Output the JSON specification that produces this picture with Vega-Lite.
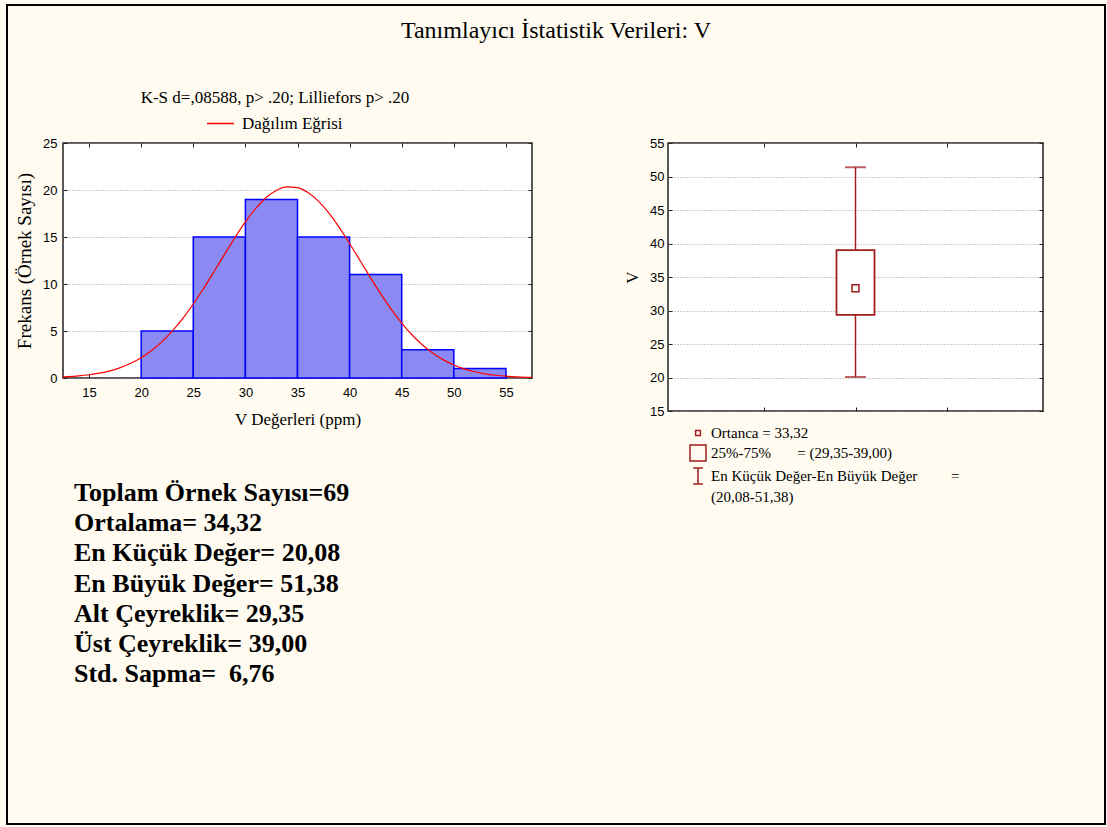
{
  "$schema": "https://vega.github.io/schema/vega-lite/v6.json",
  "background": "#fffbf0",
  "autosize": {"type": "pad"},
  "padding": {"left": 6, "top": 4, "right": 2, "bottom": 2},
  "config": {
    "font": "Liberation Serif",
    "axis": {
      "labelFont": "Liberation Sans", "labelFontSize": 13, "labelColor": "black", "labelOverlap": false,
      "titleFont": "Liberation Serif", "titleFontSize": 17, "titleFontWeight": "normal", "titleColor": "black",
      "tickColor": "#222222", "domain": false, "grid": false
    },
    "legend": {"labelFont": "Liberation Serif", "labelColor": "black", "labelLimit": 500, "strokeWidth": 2}
  },
  "spacing": 86,
  "hconcat": [
    {
      "spacing": 52,
      "vconcat": [
        {
          "width": 469, "height": 235,
          "view": {"stroke": "#222222", "strokeWidth": 1.5, "fill": "white"},
          "title": {"text": "K-S d=,08588, p> .20; Lilliefors p> .20", "font": "Liberation Serif", "fontSize": 17, "fontWeight": "normal", "color": "black", "anchor": "middle", "frame": "bounds", "offset": 30},
          "layer": [
            {
              "data": {"values": [
                {"bin_start": 20, "bin_end": 25, "count": 5},
                {"bin_start": 25, "bin_end": 30, "count": 15},
                {"bin_start": 30, "bin_end": 35, "count": 19},
                {"bin_start": 35, "bin_end": 40, "count": 15},
                {"bin_start": 40, "bin_end": 45, "count": 11},
                {"bin_start": 45, "bin_end": 50, "count": 3},
                {"bin_start": 50, "bin_end": 55, "count": 1}
              ]},
              "mark": {"type": "bar", "fill": "#8a8af2", "stroke": "#0000ff", "strokeWidth": 1.5},
              "encoding": {
                "x": {"field": "bin_start", "type": "quantitative", "scale": {"domain": [12.5, 57.5], "nice": false, "zero": false},
                  "axis": {"orient": "bottom", "values": [15, 20, 25, 30, 35, 40, 45, 50, 55], "title": "V Değerleri (ppm)", "tickSize": -4, "labelPadding": 12, "titlePadding": 12, "labelOverlap": false}},
                "x2": {"field": "bin_end"},
                "y": {"field": "count", "type": "quantitative", "scale": {"domain": [0, 25], "nice": false},
                  "axis": {"orient": "left", "values": [0, 5, 10, 15, 20, 25], "title": "Frekans (Örnek Sayısı)", "titleFontSize": 19, "tickSize": -4, "labelPadding": 10, "titlePadding": 8, "labelOverlap": false, "grid": true, "gridColor": "#9a9a9a", "gridDash": [1, 2]}},
                "y2": {"datum": 0}
              }
            },
            {
              "data": {"values": [
                {"v": 12.5, "freq": 0.111}, {"v": 13, "freq": 0.141}, {"v": 14, "freq": 0.222}, {"v": 15, "freq": 0.343},
                {"v": 16, "freq": 0.518}, {"v": 17, "freq": 0.764}, {"v": 18, "freq": 1.105}, {"v": 19, "freq": 1.561},
                {"v": 20, "freq": 2.158}, {"v": 21, "freq": 2.922}, {"v": 22, "freq": 3.866}, {"v": 23, "freq": 5.011},
                {"v": 24, "freq": 6.35}, {"v": 25, "freq": 7.871}, {"v": 26, "freq": 9.547}, {"v": 27, "freq": 11.33},
                {"v": 28, "freq": 13.15}, {"v": 29, "freq": 14.94}, {"v": 30, "freq": 16.6}, {"v": 31, "freq": 18.05},
                {"v": 32, "freq": 19.2}, {"v": 33, "freq": 19.98}, {"v": 34, "freq": 20.34}, {"v": 35, "freq": 20.26},
                {"v": 36, "freq": 19.74}, {"v": 37, "freq": 18.82}, {"v": 38, "freq": 17.56}, {"v": 39, "freq": 16.02},
                {"v": 40, "freq": 14.31}, {"v": 41, "freq": 12.5}, {"v": 42, "freq": 10.68}, {"v": 43, "freq": 8.928},
                {"v": 44, "freq": 7.303}, {"v": 45, "freq": 5.845}, {"v": 46, "freq": 4.577}, {"v": 47, "freq": 3.506},
                {"v": 48, "freq": 2.627}, {"v": 49, "freq": 1.926}, {"v": 50, "freq": 1.382}, {"v": 51, "freq": 0.97},
                {"v": 52, "freq": 0.666}, {"v": 53, "freq": 0.447}, {"v": 54, "freq": 0.294}, {"v": 55, "freq": 0.189},
                {"v": 56, "freq": 0.119}, {"v": 57, "freq": 0.073}, {"v": 57.5, "freq": 0.057}
              ]},
              "mark": {"type": "line", "strokeWidth": 1.2, "interpolate": "monotone"},
              "encoding": {
                "x": {"field": "v", "type": "quantitative",
                  "axis": {"orient": "top", "values": [15, 20, 25, 30, 35, 40, 45, 50, 55], "labels": false, "title": null, "tickSize": -4}},
                "y": {"field": "freq", "type": "quantitative",
                  "axis": {"orient": "right", "values": [0, 5, 10, 15, 20, 25], "labels": false, "title": null, "tickSize": -4}},
                "stroke": {"datum": "Dağılım Eğrisi", "type": "nominal", "scale": {"range": ["#ff0000"]},
                  "legend": {"orient": "none", "legendX": 143, "legendY": -34, "title": null, "symbolType": "stroke", "symbolSize": 729, "symbolStrokeWidth": 1.5, "labelFontSize": 17, "labelOffset": 7, "padding": 0}}
              }
            }
          ],
          "resolve": {"axis": {"x": "independent", "y": "independent"}}
        },
        {
          "width": 22, "height": 181,
          "view": {"stroke": null, "fill": null},
          "data": {"values": [
            {"row": 1, "label": "Toplam Örnek Sayısı=69"},
            {"row": 2, "label": "Ortalama= 34,32"},
            {"row": 3, "label": "En Küçük Değer= 20,08"},
            {"row": 4, "label": "En Büyük Değer= 51,38"},
            {"row": 5, "label": "Alt Çeyreklik= 29,35"},
            {"row": 6, "label": "Üst Çeyreklik= 39,00"},
            {"row": 7, "label": "Std. Sapma=\u00a0 6,76"}
          ]},
          "mark": {"type": "text", "align": "left", "baseline": "middle", "font": "Liberation Serif", "fontSize": 26, "fontWeight": "bold"},
          "encoding": {
            "y": {"field": "row", "type": "ordinal", "scale": {"type": "point", "padding": 0}, "axis": null},
            "text": {"field": "label"},
            "color": {"datum": 1, "type": "quantitative", "scale": {"domain": [0, 1], "range": ["black", "black"]},
              "legend": {"orient": "none", "legendX": -56, "legendY": -138, "direction": "vertical",
                "gradientLength": 762, "gradientThickness": 1068, "gradientOpacity": 0, "gradientStrokeWidth": 0,
                "labelOpacity": 0, "labelFontSize": 1, "labelOffset": 0,
                "title": "Tanımlayıcı İstatistik Verileri: V", "titleFont": "Liberation Serif", "titleFontSize": 24, "titleFontWeight": "normal", "titleColor": "black", "titleLimit": 1000,
                "titleAnchor": "middle", "titlePadding": 5, "padding": 14, "strokeColor": "black",
                "encode": {"gradient": {"update": {"opacity": {"value": 0}}}}}}
          }
        }
      ]
    },
    {
      "width": 375, "height": 268,
      "view": {"stroke": "#222222", "strokeWidth": 1.5, "fill": "white"},
      "data": {"values": [{"variable": "V", "min": 20.08, "q1": 29.35, "median": 33.32, "q3": 39.0, "max": 51.38}]},
      "layer": [
        {
          "layer": [
            {
              "mark": {"type": "rule", "color": "#a01e1e", "strokeWidth": 1.5},
              "encoding": {
                "x": {"datum": 2, "type": "quantitative", "scale": {"domain": [0, 4], "nice": false, "zero": false},
                  "axis": {"orient": "bottom", "values": [1, 2, 3], "labels": false, "title": null, "tickSize": -4}},
                "y": {"field": "min", "type": "quantitative", "scale": {"domain": [15, 55], "nice": false, "zero": false},
                  "axis": {"orient": "left", "values": [15, 20, 25, 30, 35, 40, 45, 50, 55], "title": "V", "tickSize": -4, "labelPadding": 8, "titlePadding": 8, "labelOverlap": false, "grid": true, "gridColor": "#9a9a9a", "gridDash": [1, 2]}},
                "y2": {"field": "max"}
              }
            },
            {
              "mark": {"type": "tick", "orient": "horizontal", "color": "#a01e1e", "size": 21, "thickness": 2},
              "encoding": {
                "x": {"datum": 2, "type": "quantitative",
                  "axis": {"orient": "bottom", "values": [1, 2, 3], "labels": false, "title": null, "tickSize": -4}},
                "y": {"field": "min", "type": "quantitative",
                  "axis": {"orient": "left", "values": [15, 20, 25, 30, 35, 40, 45, 50, 55], "title": "V", "tickSize": -4, "labelPadding": 8, "titlePadding": 8, "labelOverlap": false, "grid": true, "gridColor": "#9a9a9a", "gridDash": [1, 2]}}
              }
            },
            {
              "mark": {"type": "tick", "orient": "horizontal", "color": "#a01e1e", "size": 21, "thickness": 2},
              "encoding": {
                "x": {"datum": 2, "type": "quantitative",
                  "axis": {"orient": "bottom", "values": [1, 2, 3], "labels": false, "title": null, "tickSize": -4}},
                "y": {"field": "max", "type": "quantitative",
                  "axis": {"orient": "left", "values": [15, 20, 25, 30, 35, 40, 45, 50, 55], "title": "V", "tickSize": -4, "labelPadding": 8, "titlePadding": 8, "labelOverlap": false, "grid": true, "gridColor": "#9a9a9a", "gridDash": [1, 2]}}
              }
            },
            {
              "mark": {"type": "bar", "orient": "vertical", "width": 38, "fill": "white", "stroke": "#a01e1e", "strokeWidth": 1.8},
              "encoding": {
                "x": {"datum": 2, "type": "quantitative",
                  "axis": {"orient": "bottom", "values": [1, 2, 3], "labels": false, "title": null, "tickSize": -4}},
                "y": {"field": "q1", "type": "quantitative",
                  "axis": {"orient": "left", "values": [15, 20, 25, 30, 35, 40, 45, 50, 55], "title": "V", "tickSize": -4, "labelPadding": 8, "titlePadding": 8, "labelOverlap": false, "grid": true, "gridColor": "#9a9a9a", "gridDash": [1, 2]}},
                "y2": {"field": "q3"}
              }
            }
          ]
        },
        {
          "mark": {"type": "point", "filled": false, "size": 544, "color": "#a01e1e", "strokeWidth": 1.5, "opacity": 1},
          "encoding": {
            "x": {"datum": 2, "type": "quantitative",
              "axis": {"orient": "top", "values": [1, 2, 3], "labels": false, "title": null, "tickSize": -4}},
            "y": {"field": "median", "type": "quantitative",
              "axis": {"orient": "right", "values": [15, 20, 25, 30, 35, 40, 45, 50, 55], "labels": false, "title": null, "tickSize": -4}},
            "shape": {"datum": "Ortanca = 33,32", "type": "nominal",
              "scale": {
                "domain": ["Ortanca = 33,32", "25%-75%\u00a0\u00a0\u00a0\u00a0\u00a0\u00a0\u00a0= (29,35-39,00)", "En Küçük Değer-En Büyük Değer\u00a0\u00a0\u00a0\u00a0\u00a0\u00a0\u00a0\u00a0\u00a0=", "(20,08-51,38)"],
                "range": ["M-0.3,-0.3H0.3V0.3H-0.3Z", "M-1,-1H1V1H-1Z", "M-0.6,-1H0.6M0,-1V1M-0.6,1H0.6", "M0,0L0,0"]
              },
              "legend": {"orient": "none", "legendX": 626, "legendY": 281, "title": null, "symbolSize": 256, "symbolStrokeColor": "#a01e1e", "symbolStrokeWidth": 1.5, "symbolFillColor": "transparent", "labelFontSize": 15, "labelOffset": 4, "rowPadding": 1, "padding": 0}
            }
          }
        }
      ],
      "resolve": {"axis": {"x": "independent", "y": "independent"}}
    }
  ]
}
